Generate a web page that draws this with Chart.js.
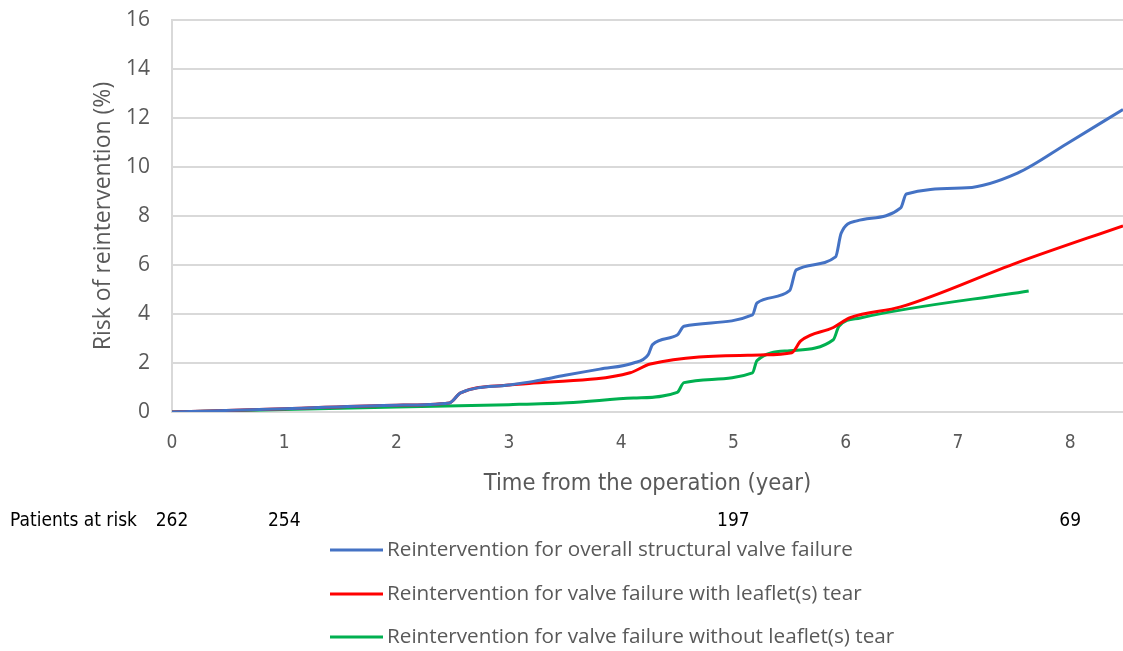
<!DOCTYPE html>
<html>
<head>
<meta charset="utf-8">
<script src="https://cdn.jsdelivr.net/npm/chart.js@4.4.0/dist/chart.umd.min.js"></script>
<style>
  html, body { margin: 0; padding: 0; background: #fff; }
  #wrap { width: 1123px; height: 651px; position: relative; }
</style>
</head>
<body>
<div id="wrap"><canvas id="myChart"></canvas></div>
<script>
// values
const xTicks = [0, 1, 2, 3, 4, 5, 6, 7, 8];
const yTicks = [0, 2, 4, 6, 8, 10, 12, 14, 16];

const overallX = [0, 1, 2, 2.47, 2.57, 3.0, 3.22, 3.5, 3.81, 4.11, 4.24, 4.28, 4.5, 4.56, 5.17, 5.21, 5.5, 5.56, 5.91, 5.96, 6.1, 6.49, 6.54, 7.08, 7.53, 7.97, 8.47];
const overallY = [0, 0.13, 0.28, 0.37, 0.78, 1.1, 1.25, 1.5, 1.75, 2.0, 2.33, 2.75, 3.14, 3.5, 3.96, 4.45, 4.95, 5.8, 6.33, 7.3, 7.8, 8.33, 8.9, 9.15, 9.75, 10.95, 12.35];

const tearX = [0, 1, 2, 2.47, 2.57, 3.0, 3.22, 4.08, 4.26, 5.24, 5.52, 5.6, 5.89, 6.04, 6.49, 7.53, 8.47];
const tearY = [0, 0.13, 0.28, 0.37, 0.78, 1.1, 1.18, 1.6, 1.96, 2.33, 2.42, 2.9, 3.45, 3.85, 4.29, 6.1, 7.6];

const noTearX = [0, 1, 2, 3, 3.52, 4.11, 4.5, 4.56, 5.17, 5.21, 5.5, 5.89, 5.94, 6.13, 7.63];
const noTearY = [0, 0.1, 0.2, 0.3, 0.38, 0.57, 0.8, 1.2, 1.6, 2.1, 2.5, 2.95, 3.5, 3.84, 4.94];

const riskYears = [0, 1, 5, 8];
const riskCounts = [262, 254, 197, 69];

const labels = [
  'Reintervention for overall structural valve failure',
  'Reintervention for valve failure with leaflet(s) tear',
  'Reintervention for valve failure without leaflet(s) tear'
];
const colors = ['#4472C4', '#FF0000', '#00B050'];

function pts(xs, ys) {
  return xs.map((x, i) => ({ x: x, y: ys[i] }));
}

const narrow = "'Liberation Sans Narrow', 'DejaVu Sans Condensed', sans-serif";

// patients at risk row + legend under the axis
const extras = {
  id: 'extras',
  afterDraw(chart) {
    const ctx = chart.ctx;
    const xs = chart.scales.x;
    ctx.save();
    ctx.fillStyle = '#000';
    ctx.font = '19px ' + narrow;
    ctx.textBaseline = 'middle';
    ctx.textAlign = 'left';
    ctx.fillText('Patients at risk', 10, 521);
    ctx.textAlign = 'center';
    riskYears.forEach((yr, i) => {
      ctx.fillText(String(riskCounts[i]), xs.getPixelForValue(yr), 521);
    });

    const rows = [550, 594, 637];
    ctx.font = "20.7px 'Open Sans', sans-serif";
    ctx.textAlign = 'left';
    rows.forEach((y, i) => {
      ctx.strokeStyle = colors[i];
      ctx.lineWidth = 3;
      ctx.beginPath();
      ctx.moveTo(330, y);
      ctx.lineTo(383, y);
      ctx.stroke();
      ctx.fillStyle = '#595959';
      ctx.fillText(labels[i], 387, y);
    });
    ctx.restore();
  }
};

const ctx = document.getElementById('myChart');
new Chart(ctx, {
  type: 'line',
  data: {
    datasets: [
      { label: labels[0], data: pts(overallX, overallY), borderColor: colors[0] },
      { label: labels[1], data: pts(tearX, tearY), borderColor: colors[1] },
      { label: labels[2], data: pts(noTearX, noTearY), borderColor: colors[2] }
    ]
  },
  options: {
    responsive: true,
    maintainAspectRatio: false,
    animation: false,
    datasets: {
      line: {
        borderWidth: 3,
        pointRadius: 0,
        cubicInterpolationMode: 'monotone',
        fill: false
      }
    },
    layout: { padding: { left: 86, top: 20, right: 0, bottom: 149 } },
    plugins: {
      legend: { display: false },
      tooltip: { enabled: false }
    },
    scales: {
      x: {
        type: 'linear',
        min: 0,
        max: 8.47,
        afterBuildTicks(scale) { scale.ticks = xTicks.map(v => ({ value: v })); },
        afterFit(scale) { scale.height = 90; },
        grid: { display: false, drawTicks: false },
        border: { color: '#d9d9d9', width: 2 },
        ticks: { color: '#595959', padding: 20, font: { family: narrow, size: 19 }, maxRotation: 0 },
        title: { display: true, text: 'Time from the operation (year)', color: '#595959', font: { family: narrow, size: 23.5 }, padding: { top: 6 } }
      },
      y: {
        min: 0,
        max: 16,
        afterBuildTicks(scale) { scale.ticks = yTicks.map(v => ({ value: v })); },
        afterFit(scale) { scale.width = 172 - 86; },
        grid: { color: '#d9d9d9', lineWidth: 2, drawTicks: true, tickLength: 18, tickColor: 'rgba(0,0,0,0)' },
        border: { color: '#d9d9d9', width: 2 },
        ticks: { color: '#595959', padding: 4, font: { family: "'Open Sans', sans-serif", size: 21 } },
        title: { display: true, text: 'Risk of reintervention (%)', color: '#595959', font: { family: "'Open Sans', sans-serif", size: 23 }, padding: { bottom: 0 } }
      }
    }
  },
  plugins: [extras]
});
</script>
</body>
</html>
